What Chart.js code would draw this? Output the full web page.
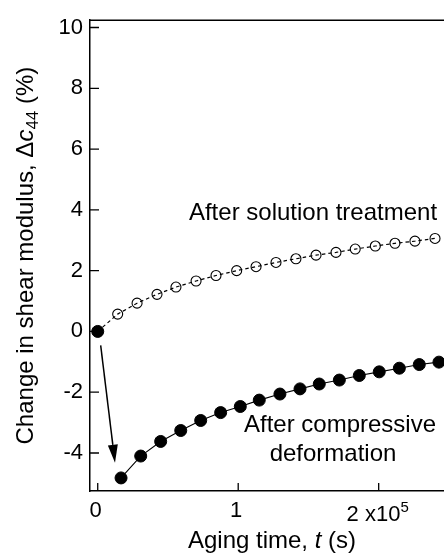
<!DOCTYPE html>
<html>
<head>
<meta charset="utf-8">
<script src="https://cdn.jsdelivr.net/npm/chart.js@4"></script>
<style>
  html, body { margin: 0; padding: 0; background: #fff; overflow: hidden; }
  #wrap { width: 444px; height: 556px; overflow: hidden; }
</style>
</head>
<body>
<div id="wrap"><canvas id="mainChart" width="451" height="556"></canvas></div>
<script>
// aging time in units of 1e5 s
const startTime = [0];
const startChange = [0];

const solutionTime = [0, 0.142, 0.280, 0.422, 0.557, 0.700, 0.842, 0.989, 1.127, 1.269, 1.411, 1.554, 1.696, 1.833, 1.976, 2.116, 2.258, 2.401];
const solutionChange = [0, 0.57, 0.93, 1.22, 1.46, 1.66, 1.84, 2.00, 2.13, 2.27, 2.39, 2.51, 2.60, 2.71, 2.81, 2.90, 2.97, 3.06];

const deformedTime = [0.166, 0.306, 0.448, 0.591, 0.733, 0.875, 1.015, 1.150, 1.297, 1.440, 1.577, 1.720, 1.862, 2.004, 2.147, 2.289, 2.429];
const deformedChange = [-4.82, -4.10, -3.62, -3.26, -2.93, -2.67, -2.47, -2.26, -2.06, -1.89, -1.73, -1.60, -1.45, -1.33, -1.21, -1.09, -1.01];

const xTicks = [0, 1, 2];
const xTickLabels = ['0', '1', '2 x10'];
const yTicks = [-4, -2, 0, 2, 4, 6, 8, 10];

// arrow from the start point down to the first deformed point
const arrowFrom = [0.021, -0.46];
const arrowTo = [0.123, -4.32];

const FONT = "'Liberation Sans', Arial, sans-serif";

function toPoints(xs, ys) {
  return xs.map((x, i) => ({ x: x, y: ys[i] }));
}

// draw a run of text pieces, each with its own font and baseline shift
function drawRich(ctx, parts, x, y, align) {
  let total = 0;
  parts.forEach((p) => {
    ctx.font = p.font;
    p.w = ctx.measureText(p.text).width;
    total += p.w;
  });
  let cx = align === 'center' ? x - total / 2 : x;
  parts.forEach((p) => {
    ctx.font = p.font;
    ctx.fillText(p.text, cx, y + (p.shift || 0));
    cx += p.w;
  });
}

const decorations = {
  id: 'decorations',
  afterDraw(chart) {
    const ctx = chart.ctx;
    const xs = chart.scales.x;
    const ys = chart.scales.y;
    const area = chart.chartArea;
    ctx.save();
    ctx.strokeStyle = '#000';
    ctx.fillStyle = '#000';

    // top frame
    ctx.lineWidth = 1.5;
    ctx.beginPath();
    ctx.moveTo(area.left, area.top);
    ctx.lineTo(area.right, area.top);
    ctx.stroke();

    // inward ticks
    ctx.lineWidth = 1.3;
    ctx.beginPath();
    xTicks.forEach((v) => {
      const px = xs.getPixelForValue(v);
      ctx.moveTo(px, area.bottom);
      ctx.lineTo(px, area.bottom - 8);
    });
    yTicks.forEach((v) => {
      const py = ys.getPixelForValue(v);
      ctx.moveTo(area.left, py);
      ctx.lineTo(area.left + 9, py);
    });
    ctx.stroke();

    // x tick labels
    ctx.textBaseline = 'alphabetic';
    ctx.textAlign = 'left';
    const tickFont = '22px ' + FONT;
    xTicks.forEach((v, i) => {
      const px = xs.getPixelForValue(v);
      if (i < 2) {
        drawRich(ctx, [{ text: xTickLabels[i], font: tickFont }], px - 2, area.bottom + 26, 'center');
      } else {
        drawRich(ctx, [
          { text: xTickLabels[i], font: tickFont },
          { text: '5', font: '15px ' + FONT, shift: -9 },
        ], px - 1, area.bottom + 30, 'center');
      }
    });

    // x title
    const titleFont = '24px ' + FONT;
    drawRich(ctx, [
      { text: 'Aging time, ', font: titleFont },
      { text: 't', font: 'italic ' + titleFont },
      { text: ' (s)', font: titleFont },
    ], 272, 548, 'center');

    // y title, rotated
    ctx.save();
    ctx.translate(33, (area.top + area.bottom) / 2);
    ctx.rotate(-Math.PI / 2);
    drawRich(ctx, [
      { text: 'Change in shear modulus, \u0394', font: titleFont },
      { text: 'c', font: 'italic ' + titleFont },
      { text: '44', font: '17px ' + FONT, shift: 5 },
      { text: ' (%)', font: titleFont },
    ], 0, 0, 'center');
    ctx.restore();

    // series labels
    drawRich(ctx, [{ text: 'After solution treatment', font: titleFont }], 313, 220, 'center');
    drawRich(ctx, [{ text: 'After compressive', font: titleFont }], 340, 432, 'center');
    drawRich(ctx, [{ text: 'deformation', font: titleFont }], 333, 461, 'center');

    // arrow
    const x0 = xs.getPixelForValue(arrowFrom[0]);
    const y0 = ys.getPixelForValue(arrowFrom[1]);
    const x1 = xs.getPixelForValue(arrowTo[0]);
    const y1 = ys.getPixelForValue(arrowTo[1]);
    const ang = Math.atan2(y1 - y0, x1 - x0);
    const headLen = 18;
    const headHalf = 5;
    const bx = x1 - headLen * Math.cos(ang);
    const by = y1 - headLen * Math.sin(ang);
    ctx.lineWidth = 1.5;
    ctx.beginPath();
    ctx.moveTo(x0, y0);
    ctx.lineTo(bx, by);
    ctx.stroke();
    ctx.beginPath();
    ctx.moveTo(x1, y1);
    ctx.lineTo(bx + headHalf * Math.sin(ang), by - headHalf * Math.cos(ang));
    ctx.lineTo(bx - headHalf * Math.sin(ang), by + headHalf * Math.cos(ang));
    ctx.closePath();
    ctx.fill();

    ctx.restore();
  },
};

const ctx = document.getElementById('mainChart').getContext('2d');

const mainChart = new Chart(ctx, {
  type: 'scatter',
  data: {
    datasets: [
      {
        label: 'Start',
        data: toPoints(startTime, startChange),
        pointRadius: 6,
        pointBackgroundColor: '#000',
        pointBorderColor: '#000',
        showLine: false,
        order: 0,
      },
      {
        label: 'After compressive deformation',
        data: toPoints(deformedTime, deformedChange),
        showLine: true,
        borderColor: '#000',
        borderWidth: 1.1,
        pointRadius: 6,
        pointBackgroundColor: '#000',
        pointBorderColor: '#000',
        pointBorderWidth: 1,
        order: 1,
      },
      {
        label: 'After solution treatment',
        data: toPoints(solutionTime, solutionChange),
        showLine: true,
        borderColor: '#000',
        borderWidth: 1.2,
        borderDash: [3.5, 3],
        pointRadius: 5,
        pointBackgroundColor: 'rgba(0,0,0,0)',
        pointBorderColor: '#000',
        pointBorderWidth: 1.1,
        order: 2,
      },
    ],
  },
  options: {
    responsive: false,
    animation: false,
    layout: { padding: { top: 18, right: 0, left: 0, bottom: 0 } },
    plugins: {
      legend: { display: false },
      tooltip: { enabled: false },
    },
    scales: {
      x: {
        type: 'linear',
        position: 'bottom',
        min: -0.055,
        max: 2.465,
        grid: { display: false },
        border: { color: '#000', width: 1.5 },
        ticks: { display: false },
        afterBuildTicks: (scale) => {
          scale.ticks = xTicks.map((v) => ({ value: v }));
        },
        afterFit: (scale) => {
          scale.height = 65;
        },
      },
      y: {
        type: 'linear',
        min: -5.25,
        max: 10.24,
        grid: { display: false, drawTicks: false },
        border: { color: '#000', width: 1.5 },
        ticks: {
          color: '#000',
          padding: 7,
          font: { family: FONT, size: 22 },
        },
        afterBuildTicks: (scale) => {
          scale.ticks = yTicks.map((v) => ({ value: v }));
        },
        afterFit: (scale) => {
          scale.width = 90;
        },
      },
    },
  },
  plugins: [decorations],
});
</script>
</body>
</html>
